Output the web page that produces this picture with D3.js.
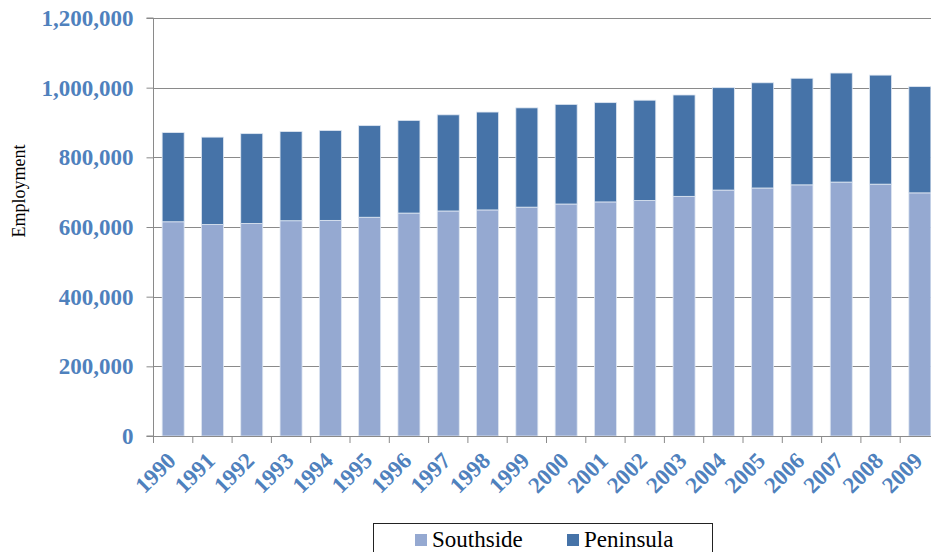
<!DOCTYPE html>
<html>
<head>
<meta charset="utf-8">
<script src="https://cdn.jsdelivr.net/npm/d3@7"></script>
<style>
  html, body { margin: 0; padding: 0; background: #fff; }
  svg { display: block; }
</style>
</head>
<body>
<svg id="chart" width="931" height="552"></svg>
<script>
const years = ["1990","1991","1992","1993","1994","1995","1996","1997","1998","1999",
               "2000","2001","2002","2003","2004","2005","2006","2007","2008","2009"];
const southside = [615000, 607000, 610000, 618000, 619000, 628000, 640000, 646000, 649000, 657000,
                   666000, 672000, 676000, 688000, 706000, 712000, 721000, 729000, 723000, 698000];
const peninsula = [256000, 251000, 258000, 256000, 258000, 263000, 266000, 276000, 281000, 285000,
                   286000, 285000, 288000, 291000, 294000, 302000, 306000, 313000, 313000, 305000];
const yTicks = [0, 200000, 400000, 600000, 800000, 1000000, 1200000];
const seriesNames = ["Southside", "Peninsula"];
const seriesColors = ["#95a9d1", "#4673a8"];

// detect an installed serif face for a given weight
function pickFont(cands, weight) {
  const ctx = document.createElement("canvas").getContext("2d");
  const sample = "Southside Employment 1,234,567";
  for (const c of cands) {
    let ok = true;
    for (const fb of ["monospace", "sans-serif"]) {
      ctx.font = `${weight} 40px ${fb}`;
      const w0 = ctx.measureText(sample).width;
      ctx.font = `${weight} 40px '${c}', ${fb}`;
      const w1 = ctx.measureText(sample).width;
      if (Math.abs(w1 - w0) < 0.01) ok = false;
    }
    if (ok) return c;
  }
  return null;
}
const regCands = ["Liberation Serif", "Tinos", "Times New Roman", "Noto Serif", "DejaVu Serif", "FreeSerif"];
const regFace = pickFont(regCands, "normal");
const boldFace = pickFont(regCands, "bold");
const regFamily = regFace ? `'${regFace}', serif` : "serif";
const boldFamily = boldFace ? `'${boldFace}', serif` : "serif";
const regIsTimes = regFace && regFace !== "DejaVu Serif";
const boldIsTimes = boldFace && boldFace !== "DejaVu Serif";

const svg = d3.select("#chart");
const plotLeft = 153.5, plotRight = 939.5, plotTop = 18, plotBottom = 436;

const x = d3.scaleBand().domain(years).range([plotLeft, plotRight]).paddingInner(0.44).paddingOuter(0.22);
const y = d3.scaleLinear().domain([0, 1200000]).range([plotBottom, plotTop]);

const labelColor = "#4f81bd";
const gridColor = "#8a8a8a";
const tickSize = boldIsTimes ? "23px" : "17.5px";

// gridlines
svg.append("g").selectAll("line").data(yTicks.filter(d => d > 0)).join("line")
  .attr("x1", plotLeft).attr("x2", 931)
  .attr("y1", d => Math.round(y(d)) + 0.5).attr("y2", d => Math.round(y(d)) + 0.5)
  .attr("stroke", gridColor).attr("stroke-width", 1);

// stacked data
const table = years.map((yr, i) => ({year: yr, Southside: southside[i], Peninsula: peninsula[i]}));
const stack = d3.stack().keys(seriesNames)(table);

svg.append("g").selectAll("g").data(stack).join("g")
  .attr("fill", (d, i) => seriesColors[i])
  .selectAll("rect").data(d => d).join("rect")
  .attr("x", d => x(d.data.year))
  .attr("width", x.bandwidth())
  .attr("y", d => y(d[1]))
  .attr("height", d => y(d[0]) - y(d[1]))
  .attr("stroke", "#dfe7f2").attr("stroke-width", 0.8);

// y axis
const yAxis = d3.axisLeft(y).tickValues(yTicks).tickSize(7).tickPadding(13)
  .tickFormat(d3.format(","));
const gy = svg.append("g").attr("transform", `translate(${plotLeft},0)`).call(yAxis);
gy.select(".domain").attr("stroke", gridColor).attr("d", `M-7,${y(1200000)}H0V${plotBottom}H-7`);
gy.selectAll(".tick line").attr("stroke", gridColor);
gy.selectAll(".tick text")
  .attr("fill", labelColor)
  .attr("font-family", boldFamily)
  .attr("font-weight", "bold")
  .attr("font-size", tickSize);

// x axis
const gx = svg.append("g").attr("transform", `translate(0,${plotBottom})`);
gx.append("line").attr("x1", plotLeft).attr("x2", 931).attr("y1", 0.5).attr("y2", 0.5)
  .attr("stroke", gridColor);
const boundaries = years.map(yr => x(yr) - x.step() * 0.22);
gx.selectAll("line.tk").data(boundaries).join("line").attr("class", "tk")
  .attr("x1", d => d).attr("x2", d => d).attr("y1", 0).attr("y2", 7)
  .attr("stroke", gridColor);
gx.selectAll("text").data(years).join("text")
  .attr("transform", d => `translate(${x(d) + x.bandwidth() / 2 + 4},26) rotate(-45)`)
  .attr("text-anchor", "end")
  .attr("fill", labelColor)
  .attr("font-family", boldFamily)
  .attr("font-weight", "bold")
  .attr("font-size", tickSize)
  .text(d => d);

// y axis title
svg.append("text")
  .attr("transform", "translate(25,191) rotate(-90)")
  .attr("text-anchor", "middle")
  .attr("font-family", regFamily)
  .attr("font-size", regIsTimes ? "18px" : "14.5px")
  .attr("fill", "#000")
  .text("Employment");

// legend
const lg = svg.append("g");
lg.append("rect").attr("x", 373.5).attr("y", 523.5).attr("width", 339).attr("height", 40)
  .attr("fill", "#fff").attr("stroke", "#222").attr("stroke-width", 1);
const legendX = [415, 567];
const items = lg.selectAll("g.item").data(seriesNames).join("g").attr("class", "item")
  .attr("transform", (d, i) => `translate(${legendX[i]},0)`);
items.append("rect").attr("x", 0).attr("y", 534).attr("width", 12).attr("height", 12)
  .attr("fill", (d, i) => seriesColors[i]);
items.append("text").attr("x", 17).attr("y", 547)
  .attr("font-family", regFamily)
  .attr("font-size", regIsTimes ? "23px" : "18.5px")
  .attr("fill", "#000")
  .text(d => d);
</script>
</body>
</html>
